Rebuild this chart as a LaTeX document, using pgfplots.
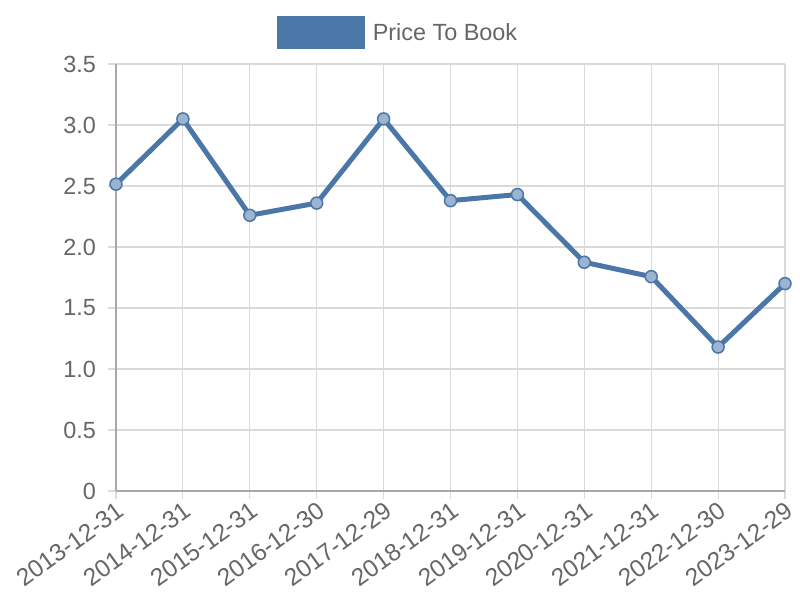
\documentclass[border=0pt]{standalone}
\usepackage{pgfplots}
\pgfplotsset{compat=1.18}
\usepackage{fontspec}
\setmainfont{Liberation Sans}
\definecolor{c1}{HTML}{4A77A8}
\definecolor{tickc}{HTML}{666666}
\definecolor{gridc}{HTML}{DADADA}
\definecolor{axc}{HTML}{A8A8A8}
\begin{document}
\begin{tikzpicture}
\begin{axis}[
  scale only axis, width=669bp, height=427bp,
  xmin=0, xmax=10, ymin=0, ymax=3.5,
  xtick={0,...,10},
  xticklabels={2013-12-31,2014-12-31,2015-12-31,2016-12-30,2017-12-29,2018-12-31,2019-12-31,2020-12-31,2021-12-31,2022-12-30,2023-12-29},
  ytick={0,0.5,1,1.5,2,2.5,3,3.5},
  yticklabels={0,0.5,1.0,1.5,2.0,2.5,3.0,3.5},
  grid=major, major grid style={gridc, line width=1.2bp},
  axis lines*=left,
  axis line style={axc, line width=1.4bp},
  tick align=outside, major tick length=8bp,
  tick style={gridc, line width=1.2bp},
  tick label style={font=\fontsize{23.5}{28}\selectfont, text=tickc},
  x tick label style={rotate=36, anchor=north east, inner sep=1bp, font=\fontsize{24.5}{28}\selectfont},
  y tick label style={inner sep=3bp, xshift=-9bp},
  clip=false,
  legend style={at={(0.4215,1)}, anchor=south, yshift=15bp, draw=none, fill=none,
    font=\fontsize{23.5}{28}\selectfont, text=tickc, inner sep=0pt},
  legend image code/.code={\fill[c1] (0bp,-14bp) rectangle (83bp,14bp); \path (89bp,0bp);},
]
\addplot[c1, line width=5bp, mark=*, mark size=6bp,
  mark options={fill=c1!55!white, draw=c1, line width=1.5bp}]
  coordinates {(0,2.515) (1,3.05) (2,2.26) (3,2.36) (4,3.05) (5,2.38) (6,2.43) (7,1.875) (8,1.757) (9,1.18) (10,1.70)};
\addlegendentry{Price To Book}
\coordinate (ll) at (rel axis cs:0,0);
\coordinate (ur) at (rel axis cs:1,1);
\end{axis}
\pgfresetboundingbox
\path (ur) ++(15bp,64bp) coordinate (b2);
\useasboundingbox (ll) ++(-116bp,-109bp) rectangle (b2);
\end{tikzpicture}
\end{document}
